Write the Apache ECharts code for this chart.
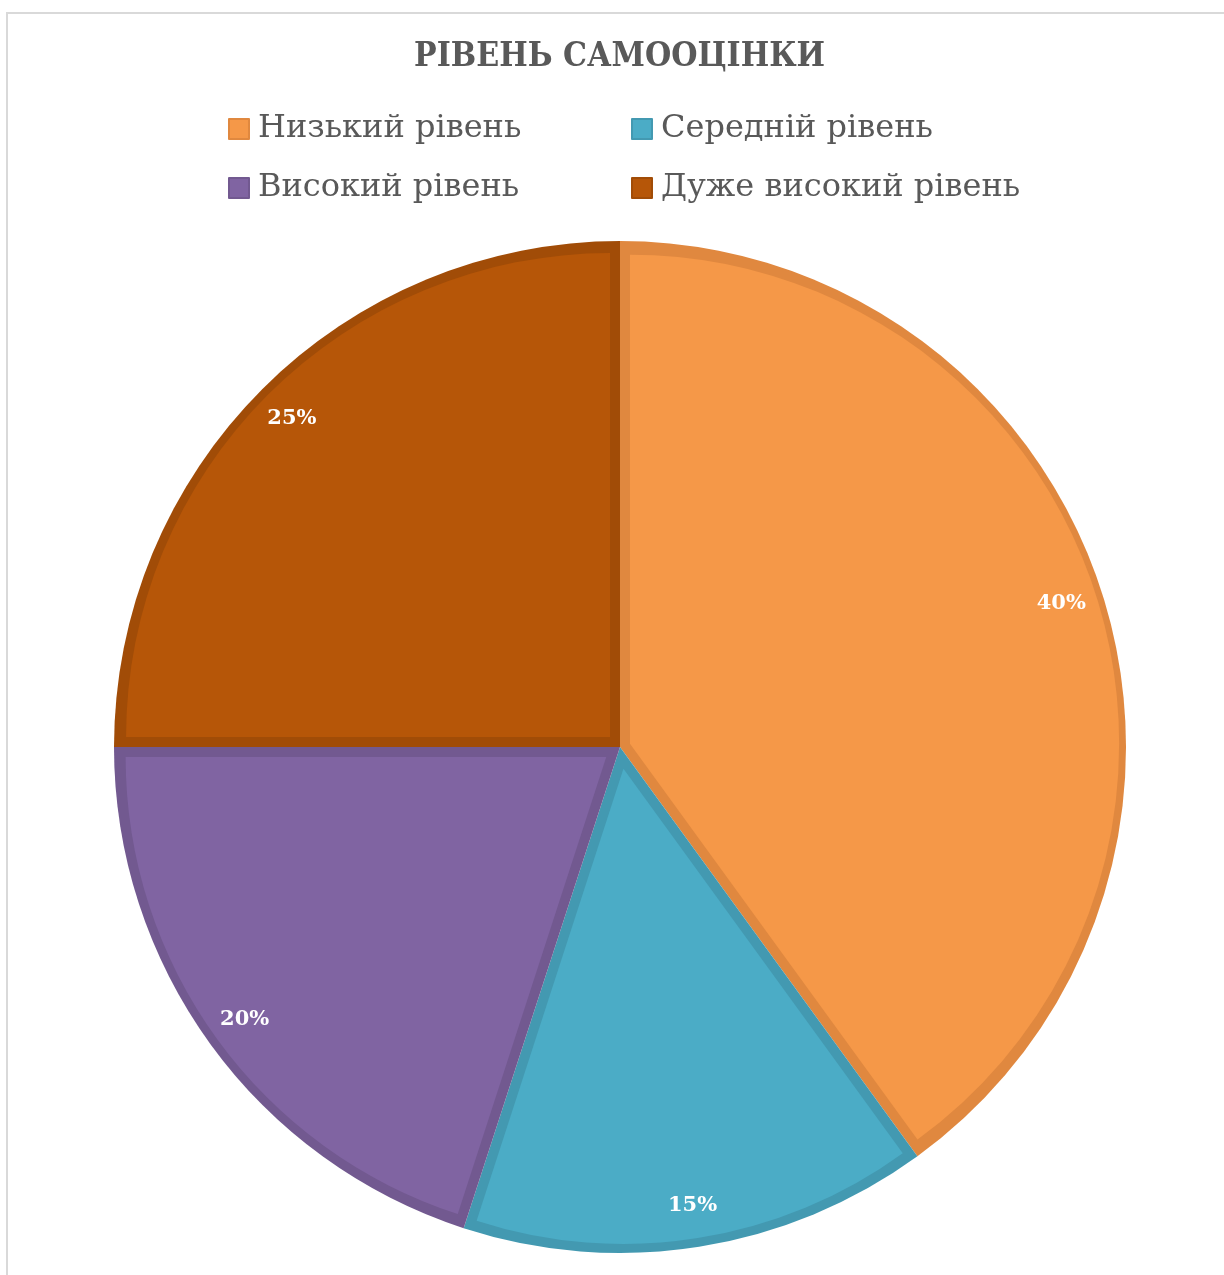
<!DOCTYPE html>
<html>
<head>
<meta charset="utf-8">
<title>Рівень самооцінки</title>
<script src="https://cdn.jsdelivr.net/npm/echarts@6/dist/echarts.min.js"></script>
<style>
  html, body { margin: 0; padding: 0; background: #ffffff; overflow: hidden; }
  #frame {
    position: absolute; left: 6px; top: 12px; width: 1300px; height: 1400px;
    border: 2px solid #d9d9d9; box-sizing: border-box;
  }
  #chart { position: absolute; left: 0; top: 0; width: 1224px; height: 1275px; }
</style>
</head>
<body>
<div id="frame"></div>
<div id="chart"></div>
<script>
// Survey result: self-esteem levels, share of respondents in percent
const categories = ['Низький рівень', 'Середній рівень', 'Високий рівень', 'Дуже високий рівень'];
const shares = [40, 15, 20, 25];

// Slice fill colours and the darker inner edge of each slice
const fillColors = ['#F59848', '#4BACC6', '#8064A2', '#B65608'];
const edgeColors = ['#E0883F', '#4399B1', '#725990', '#A14C07'];

const CENTER = [620, 747];
const RADIUS = 506;
const RIM = 10;      // width of the darker outer rim
const SEAM = 10;     // width of the darker band along each side of a slice

const total = shares.reduce((a, b) => a + b, 0);
const FONT = 'DejaVu Serif';
const TITLE_FONT = '"DejaVu Serif Condensed", "DejaVu Serif"';

// Bottom layer: full pie in the darker edge colours
const edgeSeries = {
  type: 'pie',
  silent: true,
  center: CENTER,
  radius: [0, RADIUS],
  startAngle: 90,
  clockwise: true,
  label: { show: false },
  labelLine: { show: false },
  emphasis: { disabled: true },
  data: categories.map((name, i) => ({
    name, value: shares[i], itemStyle: { color: edgeColors[i] }
  }))
};

// One layer per slice: the lighter face, pushed out along its bisector so that
// a band of constant width of the edge colour remains along both straight sides
const faceSeries = categories.map((_, k) => {
  const half = Math.PI * shares[k] / total;
  const offset = SEAM / Math.sin(half);
  const r = RADIUS - RIM - offset * (1 + Math.cos(half)) / 2;
  return {
    type: 'pie',
    silent: true,
    center: CENTER,
    radius: [0, r],
    startAngle: 90,
    clockwise: true,
    selectedMode: 'single',
    selectedOffset: offset,
    label: { show: false },
    labelLine: { show: false },
    emphasis: { disabled: true },
    select: { itemStyle: { borderWidth: 0 } },
    data: categories.map((name, i) => ({
      name,
      value: shares[i],
      selected: i === k,
      itemStyle: { color: i === k ? fillColors[i] : 'rgba(0,0,0,0)', borderWidth: 0 }
    }))
  };
});

// Transparent ring that carries the percentage labels near the rim
const labelSeries = {
  type: 'pie',
  silent: true,
  center: CENTER,
  radius: [432, 490],
  startAngle: 90,
  clockwise: true,
  itemStyle: { color: 'rgba(0,0,0,0)' },
  emphasis: { disabled: true },
  labelLine: { show: false },
  label: {
    show: true,
    position: 'inside',
    formatter: '{c}%',
    color: '#ffffff',
    fontFamily: FONT,
    fontWeight: 'bold',
    fontSize: 21
  },
  data: categories.map((name, i) => ({ name, value: shares[i] }))
};

const legendText = { color: '#595959', fontFamily: FONT, fontSize: 32, lineHeight: 36, padding: [0, 0, 0, 4] };
const legendItem = i => ({
  name: categories[i],
  itemStyle: { color: fillColors[i], borderColor: edgeColors[i], borderWidth: 2 }
});
const legendBase = {
  orient: 'vertical',
  top: 111,
  padding: 0,
  itemWidth: 20,
  itemHeight: 20,
  itemGap: 23,
  icon: 'rect',
  selectedMode: false,
  textStyle: legendText
};

const chart = echarts.init(document.getElementById('chart'), null, { renderer: 'canvas' });
chart.setOption({
  animation: false,
  title: {
    text: 'РІВЕНЬ САМООЦІНКИ',
    left: 414,
    top: 40,
    padding: 0,
    textStyle: { color: '#595959', fontFamily: TITLE_FONT, fontWeight: 'bold', fontSize: 33.5 }
  },
  legend: [
    Object.assign({}, legendBase, { left: 228, data: [legendItem(0), legendItem(2)] }),
    Object.assign({}, legendBase, { left: 631, data: [legendItem(1), legendItem(3)] })
  ],
  series: [edgeSeries].concat(faceSeries, [labelSeries])
});
</script>
</body>
</html>
